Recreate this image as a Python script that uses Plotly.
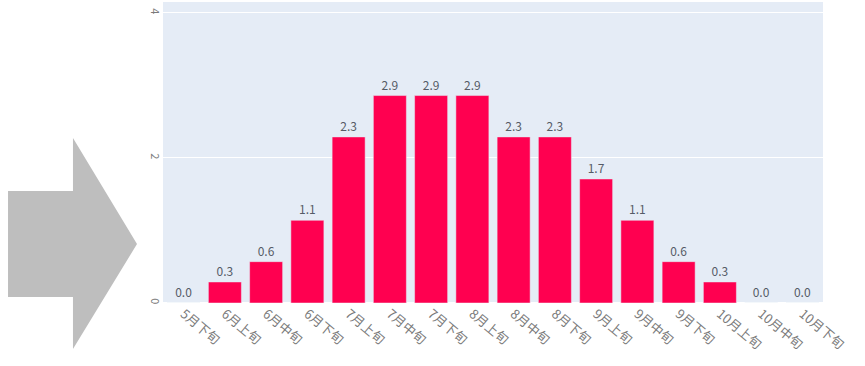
import plotly.graph_objects as go

categories = ["5月下旬", "6月上旬", "6月中旬", "6月下旬", "7月上旬", "7月中旬", "7月下旬",
              "8月上旬", "8月中旬", "8月下旬", "9月上旬", "9月中旬", "9月下旬",
              "10月上旬", "10月中旬", "10月下旬"]
values = [0.0, 0.29, 0.57, 1.14, 2.29, 2.86, 2.86, 2.86, 2.29, 2.29, 1.71, 1.14, 0.57, 0.29, 0.0, 0.0]

W, H = 865, 366
ML, MR, MT, MB = 163, 42, 2, 63
PW, PH = W - ML - MR, H - MT - MB

def px(x, y):
    return (x - ML) / PW, (H - MB - y) / PH

arrow_pts = [(8, 191), (73, 191), (73, 138), (137, 244), (73, 349), (73, 297), (8, 297)]
path = "M " + " L ".join(f"{px(x, y)[0]:.4f},{px(x, y)[1]:.4f}" for x, y in arrow_pts) + " Z"

fig = go.Figure(go.Bar(
    x=categories, y=values,
    marker_color="#FF0050",
    text=[f"{v:.1f}" for v in values],
    textposition="outside",
    textfont=dict(size=12, color="#555b66"),
    cliponaxis=False,
))

fig.update_layout(
    template="plotly",
    width=W, height=H,
    margin=dict(l=ML, r=MR, t=MT, b=MB),
    bargap=0.2,
    font=dict(family="Noto Sans CJK JP", size=12, color="#555b66"),
    showlegend=False,
    shapes=[dict(type="path", xref="paper", yref="paper", path=path,
                 fillcolor="#BEBEBE", line=dict(width=0), layer="above")],
)
fig.update_xaxes(tickangle=40, tickfont=dict(size=13, color="#7a7a7a"))
fig.update_yaxes(range=[0, 4.15], tickvals=[0, 2, 4], tickangle=90,
                 tickfont=dict(size=11, color="#7a7a7a"))

fig.write_html("out.html")
